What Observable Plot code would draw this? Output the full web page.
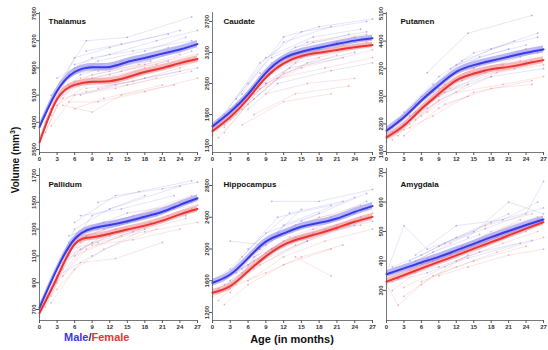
<!DOCTYPE html>
<html><head><meta charset="utf-8">
<script src="https://cdn.jsdelivr.net/npm/d3@7"></script>
<script src="https://cdn.jsdelivr.net/npm/@observablehq/plot@0.6"></script>
<style>
body{margin:0;background:#fff;font-family:"Liberation Sans",Arial,sans-serif;}
#wrap{position:relative;width:548px;height:350px;overflow:hidden;background:#fff;}
.panel{position:absolute;}
.ytitle{position:absolute;left:15px;top:160px;transform:translate(-50%,-50%) rotate(-90deg);font-weight:bold;font-size:10px;color:#111;white-space:nowrap;}
.legend{position:absolute;left:64px;top:331px;font-weight:bold;font-size:11px;white-space:nowrap;}
.xtitle{position:absolute;left:292px;top:339px;transform:translate(-50%,-50%);font-weight:bold;font-size:11px;color:#111;white-space:nowrap;}
</style></head><body><div id="wrap"></div>
<script>
// ---------- data ----------
const ages = [0, 3, 6, 9, 12, 15, 18, 21, 24, 27];
const xTicks = [0, 3, 6, 9, 12, 15, 18, 21, 24, 27];

const thalamusMaleMean   = [4160, 5220, 5780, 5920, 5930, 6075, 6190, 6320, 6440, 6600];
const thalamusFemaleMean = [3710, 4980, 5400, 5490, 5510, 5625, 5780, 5900, 6040, 6160];
const caudateMaleMean    = [1670, 1948, 2292, 2707, 2987, 3116, 3193, 3265, 3330, 3376];
const caudateFemaleMean  = [1578, 1851, 2209, 2617, 2890, 3032, 3096, 3149, 3201, 3246];
const putamenMaleMean    = [2129, 2469, 2895, 3278, 3618, 3790, 3900, 4002, 4104, 4188];
const putamenFemaleMean  = [1958, 2257, 2681, 3064, 3406, 3575, 3687, 3746, 3830, 3917];
const pallidumMaleMean   = [713, 1003, 1226, 1305, 1331, 1358, 1392, 1429, 1481, 1530];
const pallidumFemaleMean = [674, 937, 1187, 1239, 1265, 1297, 1326, 1363, 1410, 1450];
const hippoMaleMean      = [1574, 1678, 1885, 2093, 2197, 2280, 2330, 2384, 2467, 2540];
const hippoFemaleMean    = [1449, 1533, 1720, 1907, 2052, 2135, 2197, 2268, 2343, 2405];
const amygMaleMean       = [355, 375, 395, 414, 436, 458, 481, 502, 522, 541];
const amygFemaleMean     = [330, 352, 375, 397, 419, 442, 464, 487, 510, 532];

// confidence half-widths (male, female)
const thalamusCI = [110, 100];
const caudateCI  = [60, 55];
const putamenCI  = [90, 85];
const pallidumCI = [26, 24];
const hippoCI    = [45, 42];
const amygCI     = [12, 11];

const thalamusTicks = [3500, 4300, 5100, 5900, 6700, 7500];
const caudateTicks  = [1300, 1900, 2500, 3100, 3700];
const putamenTicks  = [1600, 2300, 3000, 3700, 4400, 5100];
const pallidumTicks = [700, 900, 1100, 1300, 1500, 1700];
const hippoTicks    = [1200, 1600, 2000, 2400, 2800];
const amygTicks     = [300, 400, 500, 600, 700];

const thalamusDomain = [3412, 7530];
const caudateDomain  = [1165, 3874];
const putamenDomain  = [1575, 5125];
const pallidumDomain = [618, 1752];
const hippoDomain    = [1099, 3014];
const amygDomain     = [198, 714];

// individual subjects: [age, volume] pairs
const thalamusMaleSubj = [
  [[1,4500],[6,6200],[12,6500],[24,7000]],
  [[2,5100],[8,6700],[15,6800],[26,7400]],
  [[4,5500],[10,6100],[18,6400],[25,6800]],
  [[3,5000],[9,5600],[14,5800],[22,6100]],
  [[6,6000],[12,6300],[20,6700],[27,7000]],
  [[5,5400],[11,5500],[17,5700],[24,6000]],
  [[2,4700],[7,5700],[13,6000],[21,6300]],
  [[8,6400],[14,6600],[22,6900]],
  [[3,5600],[9,6200],[16,6400],[26,6700]],
  [[10,5300],[18,5600],[27,5900]],
  [[1,4300],[5,5700],[12,5900],[19,6100]],
  [[7,5100],[13,5400],[24,5800]]
];
const thalamusFemaleSubj = [
  [[0,3600],[3,4800],[9,5500],[18,5900]],
  [[2,4500],[6,5500],[12,5700],[24,6300]],
  [[4,5000],[8,5200],[15,5400],[26,5800]],
  [[1,4000],[6,5900],[14,6100],[22,6500]],
  [[5,4900],[10,4900],[18,5200],[27,5600]],
  [[7,5600],[12,5800],[20,6000],[26,6400]],
  [[3,5200],[9,5700],[17,6000],[25,6500]],
  [[6,4700],[11,5000],[21,5400]],
  [[8,5300],[16,5500],[24,5900],[27,6100]],
  [[2,4200],[6,5100],[13,5300],[20,5600]],
  [[4,4800],[9,4600],[14,5100],[23,5400]],
  [[10,5800],[18,6000],[27,6300]]
];
const caudateMaleSubj = [
  [[1,1800],[6,2500],[12,3300],[20,3600]],
  [[2,1900],[8,2900],[15,3500],[26,3700]],
  [[3,1850],[9,2500],[16,2900],[24,3100]],
  [[0,1600],[4,2000],[10,2700],[19,3200]],
  [[5,2300],[12,3400],[18,3600],[27,3750]],
  [[7,2400],[13,2800],[22,3000]],
  [[4,2200],[9,3000],[17,3400],[25,3550]],
  [[6,2000],[11,2500],[20,2750],[27,2900]],
  [[8,2700],[14,3200],[23,3450]],
  [[2,1700],[7,2200],[15,3000],[24,3300]],
  [[10,3000],[16,3300],[26,3500]],
  [[3,2000],[10,2800],[21,3300]]
];
const caudateFemaleSubj = [
  [[0,1500],[4,1900],[9,2500],[18,3000]],
  [[2,1650],[7,2300],[14,2900],[25,3200]],
  [[3,1800],[8,2600],[15,3100],[24,3400]],
  [[5,2000],[11,2600],[19,2800],[27,3000]],
  [[1,1450],[6,2100],[12,2700],[21,3050]],
  [[4,2100],[10,2900],[17,3300],[26,3450]],
  [[6,2200],[13,3000],[22,3250]],
  [[9,2300],[16,2500],[24,2600]],
  [[7,1900],[14,2300],[23,2450]],
  [[2,1550],[8,2400],[15,2800],[27,3150]],
  [[11,2800],[18,3150],[26,3300]],
  [[5,1700],[12,2150],[20,2300]]
];
const putamenMaleSubj = [
  [[1,2200],[6,3000],[12,3800],[21,4200]],
  [[3,2600],[9,3500],[15,4100],[26,4500]],
  [[0,2000],[5,2600],[11,3300],[19,3700]],
  [[7,3600],[14,4600],[25,5050]],
  [[2,2400],[8,3300],[16,4000],[24,4300]],
  [[4,2500],[10,3100],[18,3500],[27,3700]],
  [[6,2900],[13,3900],[22,4400]],
  [[3,2300],[9,3000],[17,3600],[25,3900]],
  [[11,3700],[18,4200],[26,4600]],
  [[5,2800],[12,3400],[20,3800]],
  [[8,3100],[15,3600],[23,4000],[27,4200]],
  [[1,2100],[7,2700],[14,3300]]
];
const putamenFemaleSubj = [
  [[0,1850],[4,2300],[9,2900],[18,3500]],
  [[2,2000],[7,2800],[13,3400],[24,3800]],
  [[3,2150],[8,2500],[15,3100],[25,3400]],
  [[1,1900],[6,2700],[12,3600],[21,4000]],
  [[5,2400],[11,3200],[19,3600],[27,3800]],
  [[4,2200],[10,3300],[17,3900],[26,4100]],
  [[6,2500],[14,3500],[22,3700]],
  [[9,3200],[16,3800],[24,4200]],
  [[7,2600],[12,3100],[20,3300],[27,3500]],
  [[2,2100],[8,2900],[15,3700],[23,3900]],
  [[10,2800],[18,3200],[25,3300]],
  [[3,2000],[9,2700],[14,3000]]
];
const pallidumMaleSubj = [
  [[0,720],[4,1100],[9,1400],[18,1550]],
  [[2,900],[6,1300],[12,1450],[24,1620]],
  [[3,1000],[8,1250],[15,1350],[26,1500]],
  [[1,800],[5,1200],[11,1300],[20,1400]],
  [[6,1350],[13,1550],[21,1600],[27,1650]],
  [[4,1050],[9,1200],[16,1280],[25,1400]],
  [[7,1400],[14,1450],[23,1550]],
  [[2,850],[7,1150],[12,1250],[19,1350]],
  [[10,1500],[17,1580],[26,1660]],
  [[5,1250],[11,1350],[22,1450],[27,1520]],
  [[8,1300],[15,1420],[24,1480]],
  [[3,950],[9,1100],[18,1300]]
];
const pallidumFemaleSubj = [
  [[0,650],[3,900],[8,1150],[17,1300]],
  [[1,720],[5,1100],[11,1250],[22,1400]],
  [[2,800],[6,1200],[12,1350],[24,1500]],
  [[4,1000],[9,1300],[16,1400],[26,1550]],
  [[3,850],[7,1050],[13,1080],[21,1200]],
  [[5,1150],[10,1200],[18,1280],[27,1350]],
  [[6,1100],[14,1250],[25,1380]],
  [[2,750],[6,1000],[11,1150],[20,1300]],
  [[8,1250],[15,1350],[23,1450],[27,1480]],
  [[9,1180],[16,1220],[24,1300]],
  [[4,950],[10,1300],[19,1420]],
  [[7,1200],[13,1300],[26,1450]]
];
const hippoMaleSubj = [
  [[0,1600],[3,1750],[9,2200],[18,2450]],
  [[2,1650],[6,1800],[12,2300],[24,2650]],
  [[1,1500],[5,1900],[11,2400],[20,2550]],
  [[3,2100],[9,2050],[15,2350],[26,2700]],
  [[4,1700],[10,2000],[17,2200],[25,2400]],
  [[6,2000],[13,2450],[22,2600]],
  [[7,1900],[14,2150],[21,2250],[27,2350]],
  [[2,1550],[8,1850],[16,2100],[24,2300]],
  [[10,2600],[18,2600],[27,2750]],
  [[5,1750],[12,2100],[19,2250]],
  [[11,2200],[20,2400],[26,2600]],
  [[3,1600],[8,2000],[15,2500]]
];
const hippoFemaleSubj = [
  [[0,1400],[3,1500],[8,1800],[16,2100]],
  [[1,1350],[5,1650],[11,2000],[21,2300]],
  [[2,1500],[7,1850],[13,2150],[24,2450]],
  [[4,1550],[9,1700],[15,1900],[22,2050]],
  [[3,1450],[8,2000],[14,2300],[25,2550]],
  [[6,1600],[12,1900],[19,2100],[27,2250]],
  [[5,1700],[10,2100],[18,2400],[26,2500]],
  [[9,1950],[17,2250],[24,2350]],
  [[14,1900],[20,1660]],
  [[2,1300],[6,1550],[12,1800],[20,2000]],
  [[7,1750],[14,2050],[23,2300],[27,2450]],
  [[10,2000],[18,2200],[25,2300]]
];
const amygMaleSubj = [
  [[0,360],[3,520],[7,440],[15,500]],
  [[1,380],[6,420],[12,480],[21,560]],
  [[2,340],[8,400],[15,460],[24,520]],
  [[4,400],[10,460],[18,530],[27,580]],
  [[3,350],[9,380],[16,430],[25,470]],
  [[5,420],[12,520],[20,540],[26,600]],
  [[6,390],[13,440],[22,500]],
  [[1,330],[7,360],[14,410],[23,460]],
  [[9,450],[17,510],[24,560],[27,670]],
  [[11,420],[19,480],[26,540]],
  [[2,370],[8,430],[16,490]],
  [[14,480],[21,600],[27,560]]
];
const amygFemaleSubj = [
  [[0,320],[2,250],[6,320],[14,420]],
  [[1,300],[5,360],[11,420],[20,480]],
  [[2,340],[7,380],[13,450],[22,510]],
  [[3,280],[8,350],[15,400],[24,450]],
  [[4,370],[10,420],[18,500],[26,550]],
  [[6,330],[12,380],[19,430],[27,480]],
  [[5,400],[11,460],[17,520],[25,560]],
  [[8,400],[16,470],[23,540]],
  [[9,350],[14,380],[21,420],[27,440]],
  [[3,310],[10,380],[17,450]],
  [[12,400],[20,460],[26,500]],
  [[7,410],[15,440],[24,500]]
];

// ---------- styles ----------
const C = {
  maleLine: "#6a6ad8", femaleLine: "#e06a6a",
  maleMean: "#3a3ae6", femaleMean: "#ea3434",
  maleBand: "#8c8cf2", femaleBand: "#f49090",
  axis: "#555", text: "#333"
};

const panels = [
  {title:"Thalamus", mm:thalamusMaleMean, fm:thalamusFemaleMean, ci:thalamusCI, ms:thalamusMaleSubj, fs:thalamusFemaleSubj, ticks:thalamusTicks, dom:thalamusDomain, col:0, row:0},
  {title:"Caudate", mm:caudateMaleMean, fm:caudateFemaleMean, ci:caudateCI, ms:caudateMaleSubj, fs:caudateFemaleSubj, ticks:caudateTicks, dom:caudateDomain, col:1, row:0},
  {title:"Putamen", mm:putamenMaleMean, fm:putamenFemaleMean, ci:putamenCI, ms:putamenMaleSubj, fs:putamenFemaleSubj, ticks:putamenTicks, dom:putamenDomain, col:2, row:0},
  {title:"Pallidum", mm:pallidumMaleMean, fm:pallidumFemaleMean, ci:pallidumCI, ms:pallidumMaleSubj, fs:pallidumFemaleSubj, ticks:pallidumTicks, dom:pallidumDomain, col:0, row:1},
  {title:"Hippocampus", mm:hippoMaleMean, fm:hippoFemaleMean, ci:hippoCI, ms:hippoMaleSubj, fs:hippoFemaleSubj, ticks:hippoTicks, dom:hippoDomain, col:1, row:1},
  {title:"Amygdala", mm:amygMaleMean, fm:amygFemaleMean, ci:amygCI, ms:amygMaleSubj, fs:amygFemaleSubj, ticks:amygTicks, dom:amygDomain, col:2, row:1}
];

// layout (plot-area pixel extents)
const cols = [{x0:39, x1:197, dx:9}, {x0:212, x1:372, dx:11}, {x0:386, x1:543, dx:14}];
const rows = [{y0:12, y1:152, dy:6}, {y0:168, y1:320, dy:13}];
const mL = 20, mR = 4, mT = 8, mB = 14;

const wrap = document.getElementById("wrap");

function subjRows(subs, sex) {
  return subs.flatMap((s, i) => s.map(([a, v]) => ({id: sex + i, age: a, vol: v})));
}
function meanRows(arr, hw) {
  return ages.map((a, i) => ({age: a, vol: arr[i], lo: arr[i] - hw, hi: arr[i] + hw}));
}

for (const p of panels) {
  const c = cols[p.col], r = rows[p.row];
  const width = mL + (c.x1 - c.x0) + mR;
  const height = mT + (r.y1 - r.y0) + mB;
  const mInd = subjRows(p.ms, "M"), fInd = subjRows(p.fs, "F");
  const mMean = meanRows(p.mm, p.ci[0]), fMean = meanRows(p.fm, p.ci[1]);
  const chart = Plot.plot({
    width, height,
    marginLeft: mL, marginRight: mR, marginTop: mT, marginBottom: mB,
    x: {domain: [0, 27], label: null},
    y: {domain: p.dom, label: null},
    style: {background: "transparent", fontFamily: "'Liberation Sans', Arial, sans-serif", overflow: "visible"},
    marks: [
      Plot.line(fInd, {x: "age", y: "vol", z: "id", stroke: C.femaleLine, strokeWidth: 0.6, strokeOpacity: 0.28}),
      Plot.line(mInd, {x: "age", y: "vol", z: "id", stroke: C.maleLine, strokeWidth: 0.6, strokeOpacity: 0.28}),
      Plot.dot(fInd, {x: "age", y: "vol", r: 0.9, fill: C.femaleLine, fillOpacity: 0.45}),
      Plot.dot(mInd, {x: "age", y: "vol", r: 0.9, fill: C.maleLine, fillOpacity: 0.45}),
      Plot.areaY(fMean, {x: "age", y1: "lo", y2: "hi", curve: "natural", fill: C.femaleBand, fillOpacity: 0.6}),
      Plot.areaY(mMean, {x: "age", y1: "lo", y2: "hi", curve: "natural", fill: C.maleBand, fillOpacity: 0.6}),
      Plot.line(fMean, {x: "age", y: "vol", curve: "natural", stroke: C.femaleMean, strokeWidth: 2}),
      Plot.line(mMean, {x: "age", y: "vol", curve: "natural", stroke: C.maleMean, strokeWidth: 2}),
      Plot.ruleX([0], {y1: p.dom[0], y2: p.dom[1], stroke: C.axis, strokeWidth: 0.8}),
      Plot.ruleY([p.dom[0]], {x1: 0, x2: 27, stroke: C.axis, strokeWidth: 0.8}),
      Plot.axisX({ticks: xTicks, tickFormat: d => String(d), label: null, tickSize: 3, tickPadding: 1, fontSize: 6, fontWeight: "bold", fill: C.text, stroke: C.axis}),
      Plot.axisY({ticks: p.ticks, tickFormat: d => String(d), label: null, tickSize: 3, tickPadding: 1, tickRotate: -90, fontSize: 6, fontWeight: "bold", fill: C.text, stroke: C.axis}),
      Plot.text([p.title], {frameAnchor: "top-left", textAnchor: "start", lineAnchor: "top", dx: c.dx, dy: r.dy, fontSize: 8, fontWeight: "bold", fill: "#111"})
    ]
  });
  chart.classList.add("panel");
  chart.style.left = (c.x0 - mL) + "px";
  chart.style.top = (r.y0 - mT) + "px";
  wrap.appendChild(chart);
}

const yt = document.createElement("div");
yt.className = "ytitle";
yt.innerHTML = "Volume (mm<sup style='font-size:7px'>3</sup>)";
wrap.appendChild(yt);

const lg = document.createElement("div");
lg.className = "legend";
lg.innerHTML = "<span style='color:#3a3ae6'>Male</span><span style='color:#333'>/</span><span style='color:#ea3434'>Female</span>";
wrap.appendChild(lg);

const xt = document.createElement("div");
xt.className = "xtitle";
xt.textContent = "Age (in months)";
wrap.appendChild(xt);
</script>
</body></html>
